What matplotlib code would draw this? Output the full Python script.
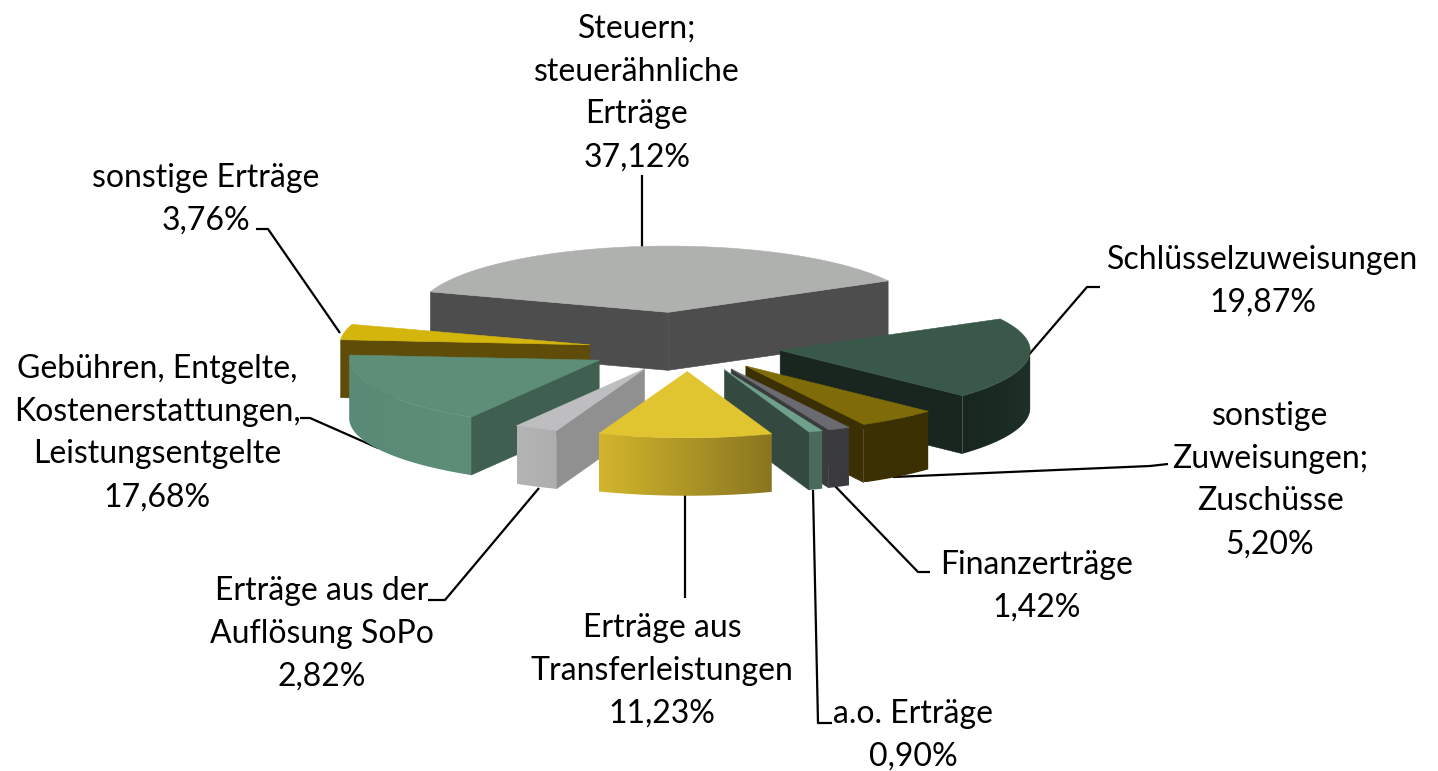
import numpy as np
import matplotlib
matplotlib.use("Agg")
import matplotlib.pyplot as plt
from matplotlib.colors import LinearSegmentedColormap
from matplotlib.patches import Polygon

# ---- data ----
categories = ["Steuern;\nsteuerähnliche\nErträge", "Schlüsselzuweisungen",
              "sonstige\nZuweisungen;\nZuschüsse", "Finanzerträge", "a.o. Erträge",
              "Erträge aus\nTransferleistungen", "Erträge aus der\nAuflösung SoPo",
              "Gebühren, Entgelte,\nKostenerstattungen,\nLeistungsentgelte", "sonstige Erträge"]
values = [37.12, 19.87, 5.20, 1.42, 0.90, 11.23, 2.82, 17.68, 3.76]

# ---- styles ----
top_colors = ["#AFB1AF", "#3A5849", "#7F6C08", "#6A6B70", "#6FA08C", "#E1C530", "#BEBEC0", "#5C8E78", "#D4B50C"]
side_colors = ["#4D4D4D", "#18261F", "#3B3003", "#3A3B3D", "#344A41", "#8E7A20", "#909090", "#3F5F50", "#5E4C08"]
outer_left = ["#4D4D4D", "#18261F", "#3B3003", "#3A3B3D", "#4A6B5C", "#D2B52C", "#B4B4B4", "#588A75", "#5E4C08"]
outer_right = ["#4D4D4D", "#1E3028", "#3B3003", "#3A3B3D", "#4A6B5C", "#8A7620", "#AEAEAE", "#5C8E78", "#5E4C08"]
explode = [120, 100, 100, 100, 100, 100, 100, 100, 100]
nudge_x = [-9, -7, -3, 0, 0, 0, 0, 0, 0]
nudge_y = [-1, 2, 0, 0, 0, 0, 0, 3, 5]
draw_order = [0, 8, 7, 1, 2, 3, 4, 6, 5]

# layout (pixels of the 1438x771 picture)
cx, cy = 688, 345
radius, squash, height = 250, 0.265, 58
start_angle = -72
label_xy = [(637, 93), (1263, 281), (1270, 480), (1037, 586), (913, 735),
            (662, 671), (322, 634), (157, 433), (206, 199)]
leaders = [[(642, 247), (642, 175)],
           [(1100, 287), (1087, 287), (1026, 358)],
           [(1168, 464), (1150, 466), (893, 477)],
           [(930, 572), (918, 572), (835, 486)],
           [(832, 723), (818, 723), (813, 490)],
           [(685, 494), (685, 598)],
           [(428, 600), (445, 600), (539, 488)],
           [(300, 418), (310, 418), (378, 448)],
           [(256, 229), (268, 229), (340, 333)]]

plt.rcParams["font.family"] = ["Lato", "DejaVu Sans"]
fig = plt.figure(figsize=(14.38, 7.71), dpi=100, facecolor="white")
ax = fig.add_axes([0, 0, 1, 1])
ax.axis("off")


def project(theta_deg, r, ox, oy):
    t = np.radians(theta_deg)
    return ox + r * np.sin(t), oy - r * squash * np.cos(t)


def signed_area(x, y):
    return 0.5 * np.sum(x * np.roll(y, -1) - np.roll(x, -1) * y)


fractions = np.array(values) / np.sum(values)
edges = start_angle + np.concatenate([[0], np.cumsum(fractions) * 360])

z = 5
for i in draw_order:
    a0, a1 = edges[i], edges[i + 1]
    mid = (a0 + a1) / 2
    ox, oy = project(mid, explode[i], cx + nudge_x[i], cy + nudge_y[i])
    theta = np.linspace(a0, a1, 80)
    ax_, ay_ = project(theta, radius, ox, oy)
    # radial walls that face the viewer
    for (ex, ey), sign in (((ax_[0], ay_[0]), -1), ((ax_[-1], ay_[-1]), 1)):
        qx = np.array([ox, ex, ex, ox])
        qy = np.array([oy, ey, ey + height, oy + height])
        if sign * signed_area(qx, qy) > 0:
            ax.fill(qx, qy, color=side_colors[i], lw=0.4, zorder=z)
    # outer wall: gradient clipped to the wall outline
    vis = np.where(np.cos(np.radians(theta)) < 0)[0]
    if len(vis) > 1:
        xs, ys = ax_[vis], ay_[vis]
        cmap = LinearSegmentedColormap.from_list("w", [outer_left[i], outer_right[i]])
        outline = np.c_[np.r_[xs, xs[::-1]], np.r_[ys, ys[::-1] + height]]
        poly = Polygon(outline, closed=True, transform=ax.transData, fc="none", ec="none")
        ax.add_patch(poly)
        im = ax.imshow(np.linspace(0, 1, 128)[None, :], cmap=cmap, aspect="auto",
                       extent=(xs.min(), xs.max(), ys.max() + height, ys.min()), zorder=z)
        im.set_clip_path(poly)
    # top face
    ax.fill(np.r_[ox, ax_], np.r_[oy, ay_], color=top_colors[i], lw=0.4, zorder=z)
    z += 0.1

ax.set_xlim(0, 1438)
ax.set_ylim(771, 0)

for pts in leaders:
    p = np.array(pts)
    ax.plot(p[:, 0], p[:, 1], color="black", lw=1.6, zorder=4, solid_capstyle="butt")

for name, v, (lx, ly) in zip(categories, values, label_xy):
    pct = f"{v:.2f}".replace(".", ",") + "%"
    ax.text(lx, ly, f"{name}\n{pct}", ha="center", va="center", fontsize=23,
            linespacing=1.53, color="black", zorder=20)

fig.savefig("out.png", dpi=100, facecolor="white")
